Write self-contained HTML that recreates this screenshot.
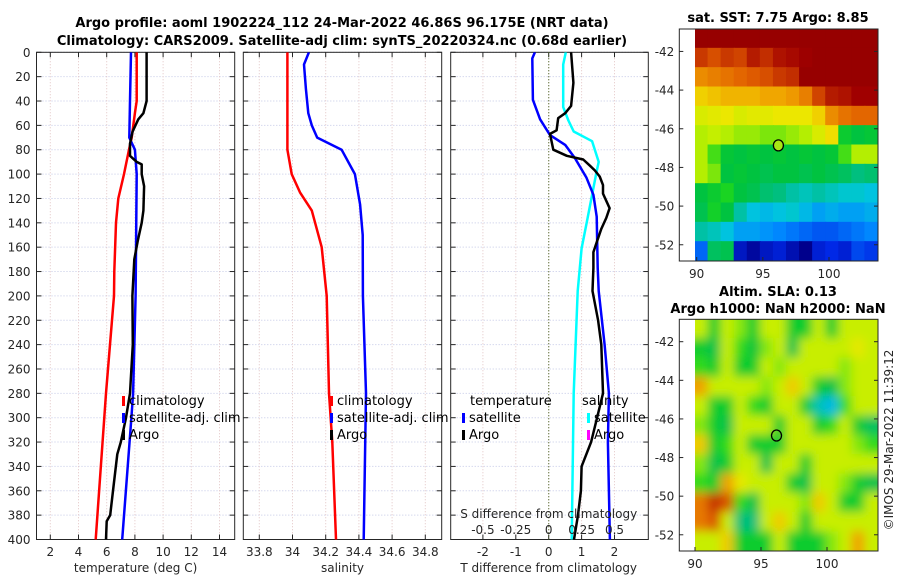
<!DOCTYPE html>
<html><head><meta charset="utf-8">
<style>
html,body{margin:0;padding:0;background:#fff;}
svg{display:block;font-family:"DejaVu Sans","Liberation Sans",sans-serif;}
.tk{font-size:12px;fill:#262626;}
.tt{font-size:13px;font-weight:bold;fill:#000;}
.lg{font-size:13px;fill:#000;}
</style></head>
<body>
<svg id="fig" width="900" height="580" viewBox="0 0 900 580" xmlns="http://www.w3.org/2000/svg">
<defs>
<clipPath id="c1"><rect x="36.5" y="52.3" width="198.2" height="487.2"/></clipPath>
<clipPath id="c2"><rect x="243.3" y="52.3" width="198.4" height="487.2"/></clipPath>
<clipPath id="c3"><rect x="450.7" y="52.3" width="197.6" height="487.2"/></clipPath>
<clipPath id="cm1"><rect x="695" y="29" width="183" height="232"/></clipPath>
<clipPath id="cm2"><rect x="695" y="319.3" width="183" height="231.7"/></clipPath>
<filter id="blur" filterUnits="userSpaceOnUse" x="670" y="300" width="230" height="270"><feGaussianBlur stdDeviation="5"/></filter>
</defs>
<text class="tt" x="342" y="27" text-anchor="middle">Argo profile: aoml 1902224_112 24-Mar-2022 46.86S 96.175E (NRT data)</text>
<text class="tt" x="342" y="45" text-anchor="middle">Climatology: CARS2009. Satellite-adj clim: synTS_20220324.nc (0.68d earlier)</text>
<text class="tt" x="778" y="22" text-anchor="middle">sat. SST: 7.75 Argo: 8.85</text>
<text class="tt" x="778" y="296" text-anchor="middle">Altim. SLA: 0.13</text>
<text class="tt" x="778" y="313" text-anchor="middle">Argo h1000: NaN h2000: NaN</text>
<text class="tk" x="0" y="0" transform="translate(893,440) rotate(-90)" text-anchor="middle">©IMOS 29-Mar-2022 11:39:12</text>
<g id="p1"></g>
<g id="p2"></g>
<g id="p3"></g>
<g id="m1"></g>
<g id="m2"></g>
</svg>
<script>
// ---- profile data ----
const tClimDepth = [0,40,50,70,80,100,120,140,180,200,280,400];
const tClimVal   = [8.13,8.13,8.0,7.77,7.58,7.23,6.82,6.66,6.54,6.52,5.95,5.22];
const tSatDepth = [0,40,70,80,100,200,280,300,400];
const tSatVal   = [7.72,7.65,7.6,8.0,8.13,8.05,7.87,7.75,7.1];
const tArgoDepth = [0,40,50,55,65,75,85,90,92,100,110,130,140,155,170,200,240,280,300,320,330,360,380,385,400];
const tArgoVal   = [8.83,8.83,8.6,8.24,7.84,7.65,7.65,8.13,8.48,8.48,8.65,8.6,8.48,8.2,7.96,7.82,7.85,7.65,7.37,7.0,6.75,6.45,6.25,6.0,5.95];
const sClimDepth = [0,80,100,115,130,160,200,280,320,400];
const sClimVal   = [33.969,33.969,33.995,34.045,34.116,34.176,34.206,34.22,34.24,34.262];
const sSatDepth = [0,10,30,50,60,70,80,100,125,150,200,280,400];
const sSatVal   = [34.099,34.069,34.081,34.095,34.116,34.149,34.296,34.376,34.407,34.423,34.424,34.443,34.429];
const dTSatDepth = [0,5,39,55,68,76,87,103,117,135,177,196,240,280,320,400];
const dTSatVal   = [-0.42,-0.5,-0.48,-0.26,0.04,0.5,0.8,1.15,1.36,1.46,1.49,1.52,1.7,1.83,1.8,1.86];
const dSSatDepth = [0,10,45,56,65,73,90,100,117,139,161,196,280,400];
const dSSatVal   = [0.13,0.11,0.11,0.15,0.19,0.33,0.38,0.36,0.33,0.29,0.25,0.22,0.19,0.175];
const dTArgoDepth = [0,25,44,50,54,64,67,80,85,88,93,97,102,109,116,128,136,145,156,164,177,196,220,240,280,300,320,340,360,380,400];
const dTArgoVal   = [0.68,0.75,0.68,0.5,0.29,0.24,0.04,0.14,0.55,1.05,1.25,1.4,1.55,1.65,1.65,1.85,1.75,1.6,1.46,1.36,1.36,1.33,1.5,1.6,1.65,1.47,1.29,1.0,0.98,0.89,0.77];
const depthTicks = [0,20,40,60,80,100,120,140,160,180,200,220,240,260,280,300,320,340,360,380,400];
const tTicks = [2,4,6,8,10,12,14];
const sTicks = [33.8,34,34.2,34.4,34.6,34.8];
const dTTicks = [-2,-1,0,1,2];
const dSTicks = [-0.5,-0.25,0,0.25,0.5];
const dSTickLabels = ["-0.5","-0.25","0","0.25","0.5"];
// ---- map data (rows lat -41..-52, cols lon 90..103) ----
const sstGrid = [
 [10.8,10.8,10.8,10.8,10.8,10.8,10.8,10.8,10.8,10.8,10.8,10.8,10.8,10.8],
 [9.9,9.7,9.9,9.8,10.2,10.0,10.3,10.4,10.6,10.8,10.8,10.8,10.8,10.8],
 [9.2,9.3,9.4,9.5,9.6,9.7,9.9,10.0,10.8,10.8,10.8,10.8,10.8,10.8],
 [8.7,8.8,8.9,8.9,8.9,9.0,9.0,9.1,9.3,9.8,10.2,10.3,10.5,10.5],
 [8.3,8.4,8.5,8.3,8.4,8.4,8.5,8.5,8.5,8.7,9.2,9.4,9.5,9.5],
 [8.0,8.1,8.0,7.9,7.9,7.8,7.8,7.9,8.0,8.3,8.6,7.2,7.0,7.1],
 [8.0,7.6,7.1,7.0,7.1,7.0,7.1,7.0,7.1,7.0,7.1,7.6,8.0,8.0],
 [8.0,7.8,7.0,7.1,7.0,6.9,7.0,7.0,6.9,7.0,6.9,6.8,6.6,6.7],
 [7.0,7.2,7.4,7.0,6.9,6.7,6.6,6.4,6.3,6.4,6.3,6.2,6.2,6.1],
 [6.9,7.3,7.0,6.4,6.1,6.0,6.1,6.2,6.0,5.8,5.9,5.8,5.8,5.9],
 [6.4,6.3,6.1,5.8,5.8,5.7,5.6,5.5,5.4,5.3,5.3,5.4,5.5,5.6],
 [5.4,6.8,6.9,4.8,4.6,4.8,4.9,4.7,4.4,4.9,5.0,4.9,5.2,5.1]];
const slaGrid = [
 [.6,.45,.6,.55,.45,.6,.6,.45,.45,.6,.45,.6,.6,.6],
 [.45,.4,.6,.5,.42,.55,.6,.4,.6,.6,.6,.6,.65,.6],
 [.5,.45,.6,.45,.45,.6,.55,.6,.6,.6,.6,.55,.6,.6],
 [.75,.6,.6,.6,.6,.55,.6,.7,.6,.45,.4,.55,.6,.6],
 [.6,.45,.45,.6,.5,.45,.6,.6,.45,.3,.25,.5,.6,.6],
 [.55,.45,.4,.6,.6,.6,.45,.6,.6,.45,.5,.6,.45,.38],
 [.7,.45,.5,.6,.45,.45,.45,.6,.6,.6,.6,.6,.55,.5],
 [.55,.4,.45,.6,.6,.4,.6,.6,.45,.6,.6,.6,.6,.6],
 [.5,.45,.75,.65,.6,.6,.6,.45,.4,.6,.6,.55,.45,.4],
 [.8,.9,.85,.5,.4,.6,.6,.6,.55,.7,.6,.45,.45,.6],
 [.8,.85,.6,.35,.35,.6,.7,.6,.45,.6,.6,.6,.6,.6],
 [.6,.6,.7,.45,.45,.45,.6,.45,.45,.45,.55,.6,.75,.6]];
const lonTicks = [90,95,100];
const latTicks = [-42,-44,-46,-48,-50,-52];
const argoLon = 96.175, argoLat = -46.86;

const NS='http://www.w3.org/2000/svg';
function mk(parent,tag,attrs,text){const e=document.createElementNS(NS,tag);for(const k in attrs)e.setAttribute(k,attrs[k]);if(text!==undefined)e.textContent=text;parent.appendChild(e);return e;}
const Y=d=>52.3+d*1.218;
const Y0=52.3,Y1=539.5;
const xT=v=>22.1+14.1*v;
const xS=v=>259.3+166*(v-33.8);
const xDT=v=>548.7+32.9*v;
const xDS=v=>548.7+131.6*v;

function panel(g,x0,x1,xticks,xf,labels,showY){
  depthTicks.forEach(d=>{mk(g,'line',{x1:x0,x2:x1,y1:Y(d),y2:Y(d),stroke:'#c3c8e6','stroke-width':1,'stroke-dasharray':'1,2'});});
  xticks.forEach(t=>{mk(g,'line',{x1:xf(t),x2:xf(t),y1:Y0,y2:Y1,stroke:'#e2c3c3','stroke-width':1,'stroke-dasharray':'1,2'});});
  depthTicks.forEach(d=>{mk(g,'line',{x1:x0,x2:x0+5,y1:Y(d),y2:Y(d),stroke:'#262626'});mk(g,'line',{x1:x1-5,x2:x1,y1:Y(d),y2:Y(d),stroke:'#262626'});
    if(showY){const t=mk(g,'text',{x:x0-6,y:Y(d)+4.5,'text-anchor':'end',class:'tk'},String(d));
      
      }});
  xticks.forEach((t,i)=>{mk(g,'line',{x1:xf(t),x2:xf(t),y1:Y1,y2:Y1-5,stroke:'#262626'});mk(g,'line',{x1:xf(t),x2:xf(t),y1:Y0,y2:Y0+5,stroke:'#262626'});
    const tx=mk(g,'text',{x:xf(t),y:556,'text-anchor':'middle',class:'tk'},labels?labels[i]:String(t));
    
    });
  mk(g,'rect',{x:x0,y:Y0,width:x1-x0,height:Y1-Y0,fill:'none',stroke:'#262626','stroke-width':1});
}
function line(g,clip,ds,vs,xf,color,name){
  const pts=ds.map((d,i)=>xf(vs[i]).toFixed(1)+','+Y(d).toFixed(1)).join(' ');
  const p=mk(g,'polyline',{points:pts,fill:'none',stroke:color,'stroke-width':2.5,'stroke-linejoin':'round','clip-path':'url(#'+clip+')'});
  
  
}
function legend(g,x,y,color,label,name){
  mk(g,'rect',{x:x,y:y-9,width:3,height:10,fill:color});
  const t=mk(g,'text',{x:x+7,y:y,class:'lg'},label);
  
  
}
// panel 1
const p1=document.getElementById('p1');
panel(p1,36.5,234.7,tTicks,xT,null,true);
line(p1,'c1',tClimDepth,tClimVal,xT,'#ff0000','temperature-climatology-line');
line(p1,'c1',tSatDepth,tSatVal,xT,'#0000ff','temperature-satellite-line');
line(p1,'c1',tArgoDepth,tArgoVal,xT,'#000000','temperature-argo-line');
legend(p1,122,405,'#ff0000','climatology','legend-climatology');
legend(p1,122,422,'#0000ff','satellite-adj. clim','legend-satellite-adj');
legend(p1,122,439,'#000000','Argo','legend-argo');
mk(p1,'text',{x:135.6,y:572,'text-anchor':'middle',class:'tk','font-size':'13'},'temperature (deg C)');
// panel 2
const p2=document.getElementById('p2');
panel(p2,243.3,441.7,sTicks,xS,null,false);
line(p2,'c2',sClimDepth,sClimVal,xS,'#ff0000','salinity-climatology-line');
line(p2,'c2',sSatDepth,sSatVal,xS,'#0000ff','salinity-satellite-line');
legend(p2,330,405,'#ff0000','climatology','legend-climatology');
legend(p2,330,422,'#0000ff','satellite-adj. clim','legend-satellite-adj');
legend(p2,330,439,'#000000','Argo','legend-argo');
mk(p2,'text',{x:342.5,y:572,'text-anchor':'middle',class:'tk','font-size':'13'},'salinity');
// panel 3
const p3=document.getElementById('p3');
panel(p3,450.7,648.3,dTTicks,xDT,null,false);
mk(p3,'line',{x1:xDT(0),x2:xDT(0),y1:Y0,y2:Y1,stroke:'#556b2f','stroke-width':1.2,'stroke-dasharray':'1,2'});
line(p3,'c3',dSSatDepth,dSSatVal,xDS,'#00ffff','salinity-diff-satellite-line');
line(p3,'c3',dTSatDepth,dTSatVal,xDT,'#0000ff','temperature-diff-satellite-line');
line(p3,'c3',dTArgoDepth,dTArgoVal,xDT,'#000000','temperature-diff-argo-line');
mk(p3,'text',{x:470,y:405,class:'lg'},'temperature');
mk(p3,'text',{x:582,y:405,class:'lg'},'salinity');
legend(p3,462,422,'#0000ff','satellite','legend-t-satellite');
legend(p3,462,439,'#000000','Argo','legend-t-argo');
legend(p3,587,422,'#00ffff','satellite','legend-s-satellite');
legend(p3,587,439,'#ff00ff','Argo','legend-s-argo');
mk(p3,'text',{x:548.7,y:518,'text-anchor':'middle',class:'tk','font-size':'13'},'S difference from climatology');
dSTicks.forEach((t,i)=>{const e=mk(p3,'text',{x:xDS(t),y:534,'text-anchor':'middle',class:'tk'},dSTickLabels[i]);
  
  });
mk(p3,'text',{x:548.7,y:572,'text-anchor':'middle',class:'tk','font-size':'13'},'T difference from climatology');

// colour palette (positions 0..1)
const palPos = [0,0.08,0.18,0.26,0.32,0.40,0.47,0.56,0.64,0.72,0.80,0.88,0.95,1];
const palCol = [[0,0,140],[0,40,230],[0,140,255],[0,200,220],[0,190,140],[0,195,60],[30,215,30],[190,240,0],[240,230,0],[240,160,0],[225,95,0],[190,40,0],[160,0,0],[150,0,0]];
function pal(t){t=Math.max(0,Math.min(1,t));let i=0;while(i<palPos.length-2&&t>palPos[i+1])i++;
  const f=(t-palPos[i])/(palPos[i+1]-palPos[i]);const a=palCol[i],b=palCol[i+1];
  return 'rgb('+a.map((v,k)=>Math.round(v+(b[k]-v)*f)).join(',')+')';}
function map(g,top,bottom,grid,cf,clip,blur,filledCircle,lon90x,lon100x){
  const x0=679.3,x1=878,dx0=695,cw=(x1-dx0)/14;
  const latTop=-40.84,ppd=(bottom-top)/12;
  const yLat=l=>top+(latTop-l)*ppd;
  const xLon=l=>lon90x+(l-90)*(lon100x-lon90x)/10;
  const cg=mk(g,'g',{'clip-path':'url(#'+clip+')'});
  const inner=mk(cg,'g',blur?{filter:'url(#blur)'}:{});
  grid.forEach((row,r)=>row.forEach((v,c)=>{
    const pad=blur?10:0;
    const cx=dx0+c*cw-0.5-(c===0?pad:0), cy=top+r*ppd-0.5-(r===0?pad:0);
    const cwid=cw+1+((c===0||c===13)?pad:0), chei=ppd+1+((r===0||r===11)?pad:0);
    const cell=mk(inner,'rect',{x:cx,y:cy,width:cwid,height:chei,fill:pal(cf(v))});
    
    
  }));
  latTicks.forEach(l=>{mk(g,'line',{x1:x0,x2:x0+4,y1:yLat(l),y2:yLat(l),stroke:'#262626'});mk(g,'line',{x1:x1-4,x2:x1,y1:yLat(l),y2:yLat(l),stroke:'#262626'});
    const t=mk(g,'text',{x:x0-5,y:yLat(l)+4.5,'text-anchor':'end',class:'tk'},String(l));
    
    });
  lonTicks.forEach(l=>{mk(g,'line',{x1:xLon(l),x2:xLon(l),y1:bottom,y2:bottom-4,stroke:'#262626'});
    const t=mk(g,'text',{x:xLon(l),y:bottom+17,'text-anchor':'middle',class:'tk'},String(l));
    
    });
  mk(g,'rect',{x:x0,y:top,width:x1-x0,height:bottom-top,fill:'none',stroke:'#262626'});
  const m=mk(g,'ellipse',{cx:xLon(argoLon),cy:yLat(argoLat),rx:5,ry:5.5,fill:filledCircle||'none',stroke:'#000','stroke-width':1.3});
  
  
}
map(document.getElementById('m1'),29,261,sstGrid,v=>0.08+(v-5.0)/(10.5-5.0)*0.87,'cm1',false,'#a8e614',696.7,829);
map(document.getElementById('m2'),319.3,551,slaGrid,v=>v*0.96,'cm2',true,null,695,827);
</script>
</body></html>
